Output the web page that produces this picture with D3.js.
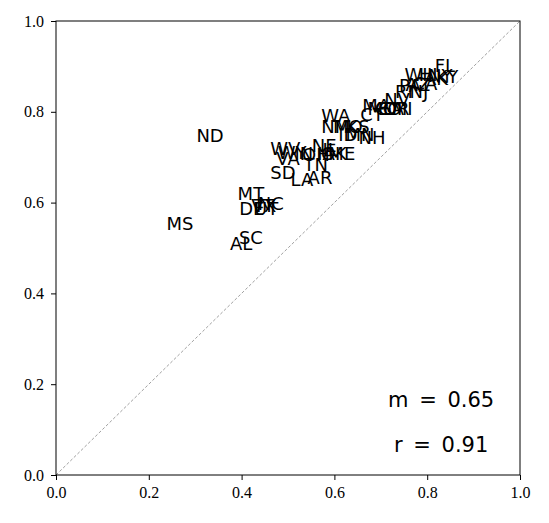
<!DOCTYPE html>
<html><head><meta charset="utf-8">
<script src="https://cdn.jsdelivr.net/npm/d3@7"></script>
<style>body{margin:0;background:#fff}</style>
</head><body><svg id="c" width="549" height="523"></svg>
<script>
const states = ["FL","WI","HI","AK","NY","KY","AZ","CA","PA","RI","NJ","NV","MA","MD","CO","GA","OR","MI","WA","CT","NM","MO","KS","ID","MN","NH","NE","IL","WV","WY","VA","IN","OH","IA","OK","ME","TN","SD","LA","AR","ND","MS","AL","SC","MT","DE","VT","UT","NC","TX"];
const xVals = [0.838,0.776,0.802,0.819,0.828,0.843,0.780,0.795,0.763,0.750,0.782,0.735,0.690,0.703,0.716,0.722,0.733,0.746,0.603,0.681,0.603,0.629,0.651,0.629,0.655,0.681,0.578,0.591,0.494,0.509,0.500,0.534,0.560,0.582,0.599,0.616,0.560,0.489,0.530,0.569,0.332,0.267,0.399,0.420,0.420,0.422,0.446,0.453,0.463,0.450];
const yVals = [0.901,0.883,0.883,0.874,0.879,0.877,0.861,0.863,0.857,0.844,0.844,0.828,0.813,0.808,0.808,0.808,0.808,0.808,0.791,0.793,0.767,0.767,0.767,0.749,0.749,0.744,0.725,0.716,0.720,0.711,0.698,0.709,0.707,0.709,0.709,0.709,0.685,0.667,0.650,0.656,0.747,0.553,0.509,0.524,0.619,0.588,0.593,0.588,0.597,0.593];
const ticks = [0.0,0.2,0.4,0.6,0.8,1.0];
const stats = ["m = 0.65","r = 0.91"];

const svg = d3.select("#c");
const L=56,R=520,T=21,B=475;
const x = d3.scaleLinear().domain([0,1]).range([L,R]);
const y = d3.scaleLinear().domain([0,1]).range([B,T]);

svg.append("line").attr("x1",x(0)).attr("y1",y(0)).attr("x2",x(1)).attr("y2",y(1))
  .attr("stroke","#888").attr("stroke-width",0.8).attr("stroke-dasharray","3,2");

const g = svg.append("g");
g.selectAll("text").data(states).join("text")
  .attr("x",(d,i)=>x(xVals[i])).attr("y",(d,i)=>y(yVals[i]))
  .attr("text-anchor","middle").attr("dominant-baseline","central")
  .attr("font-family","DejaVu Sans").attr("font-size",18).attr("fill","#000")
  .text(d=>d);

svg.append("rect").attr("x",L).attr("y",T).attr("width",R-L).attr("height",B-T)
  .attr("fill","none").attr("stroke","#000").attr("stroke-width",1);

const fmt = d3.format(".1f");
const xa = svg.append("g").attr("transform",`translate(0,${B})`)
  .call(d3.axisBottom(x).tickValues(ticks).tickFormat(fmt).tickSize(5).tickPadding(7));
const ya = svg.append("g").attr("transform",`translate(${L},0)`)
  .call(d3.axisLeft(y).tickValues(ticks).tickFormat(fmt).tickSize(5).tickPadding(7));
[xa,ya].forEach(a=>{
  a.select(".domain").remove();
  a.selectAll("text").attr("font-family","Liberation Serif").attr("font-size",16).attr("fill","#000");
  a.selectAll("line").attr("stroke","#000");
});

svg.selectAll(".stat").data(stats).join("text").attr("class","stat")
  .attr("x",x(0.83)).attr("y",(d,i)=>y(i===0?0.166:0.066))
  .attr("text-anchor","middle").attr("dominant-baseline","central")
  .attr("font-family","DejaVu Sans").attr("font-size",21).attr("word-spacing",4).text(d=>d);
</script></body></html>
